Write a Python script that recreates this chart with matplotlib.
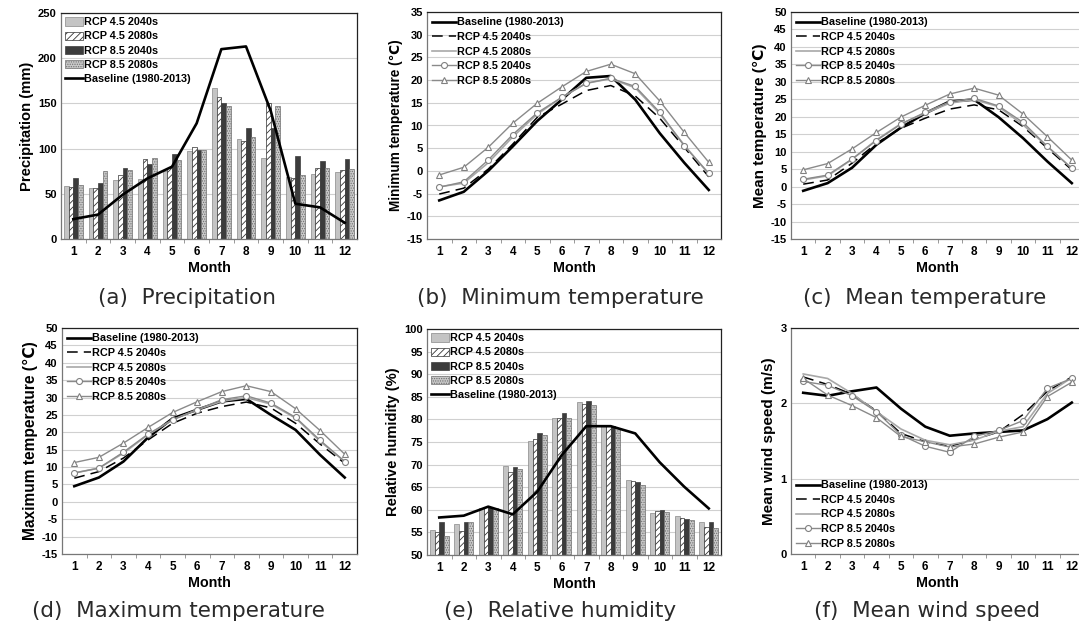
import matplotlib
matplotlib.use("Agg")
import matplotlib.pyplot as plt
import numpy as np

plt.rcParams['font.family'] = ['Liberation Sans', 'DejaVu Sans']
plt.rcParams['hatch.linewidth'] = 0.6
plt.rcParams['axes.unicode_minus'] = False

months = np.arange(1, 13)
month_labels = [str(m) for m in months]

# precipitation (mm)
prec_45_40 = [59, 56, 65, 66, 75, 97, 167, 111, 90, 69, 72, 74]
prec_45_80 = [57, 56, 71, 88, 78, 102, 157, 108, 150, 67, 78, 76]
prec_85_40 = [68, 62, 79, 83, 94, 98, 150, 123, 123, 92, 86, 89]
prec_85_80 = [60, 75, 76, 90, 87, 98, 147, 113, 147, 71, 78, 77]
prec_base = [22, 27, 49, 67, 80, 128, 210, 213, 142, 39, 35, 18]

# minimum temperature
tmin_base = [-6.5, -4.6, 0.0, 5.4, 11.0, 15.7, 20.5, 20.9, 15.7, 8.3, 1.8, -4.2]
tmin_45_40 = [-5.1, -3.8, 0.4, 5.9, 11.8, 14.7, 17.7, 18.8, 16.5, 11.6, 5.2, -1.3]
tmin_45_80 = [-3.5, -2.7, 1.8, 7.5, 12.5, 16.2, 19.3, 20.3, 18.3, 12.6, 5.7, -0.7]
tmin_85_40 = [-3.6, -2.4, 2.4, 8.0, 12.8, 16.2, 19.3, 20.4, 18.6, 12.9, 5.5, -0.5]
tmin_85_80 = [-0.9, 0.8, 5.2, 10.5, 14.9, 18.5, 21.9, 23.5, 21.4, 15.4, 8.5, 1.9]

# mean temperature
tmean_base = [-1.2, 1.0, 5.4, 12.0, 16.9, 21.0, 24.4, 24.9, 19.9, 13.9, 7.2, 1.0]
tmean_45_40 = [0.7, 1.9, 6.7, 12.4, 16.7, 19.6, 22.2, 23.4, 22.0, 17.2, 11.0, 4.8]
tmean_45_80 = [1.9, 3.1, 7.8, 13.4, 18.0, 21.0, 23.9, 24.9, 22.9, 17.7, 11.5, 5.3]
tmean_85_40 = [2.1, 3.3, 7.9, 13.2, 17.9, 21.3, 24.3, 25.3, 23.1, 18.4, 11.5, 5.2]
tmean_85_80 = [4.8, 6.6, 10.8, 15.5, 19.9, 23.3, 26.5, 28.2, 26.2, 20.8, 14.3, 7.6]

# maximum temperature
tmax_base = [4.5, 7.0, 11.6, 18.5, 24.0, 26.5, 28.9, 29.6, 25.0, 20.7, 13.5, 7.0]
tmax_45_40 = [6.8, 8.7, 12.6, 17.8, 22.6, 25.5, 27.4, 28.7, 27.0, 22.6, 16.6, 11.1]
tmax_45_80 = [8.3, 9.7, 14.0, 19.3, 23.6, 26.5, 28.9, 30.0, 28.1, 24.1, 17.4, 11.6]
tmax_85_40 = [8.3, 9.7, 14.3, 19.5, 23.6, 26.5, 29.4, 30.5, 28.4, 24.3, 17.7, 11.6]
tmax_85_80 = [11.3, 12.8, 16.9, 21.4, 25.7, 28.8, 31.7, 33.4, 31.7, 26.8, 20.5, 13.7]

# relative humidity (%)
rh_45_40 = [55.5, 56.9, 60.5, 69.6, 75.2, 80.4, 83.8, 78.5, 66.5, 59.4, 58.6, 57.4]
rh_45_80 = [55.0, 55.3, 60.6, 68.4, 75.6, 80.3, 83.3, 78.5, 66.4, 59.7, 58.1, 56.2]
rh_85_40 = [57.4, 57.4, 60.7, 69.5, 76.9, 81.4, 84.1, 78.5, 66.2, 60.0, 57.9, 57.2]
rh_85_80 = [54.2, 57.4, 60.3, 69.1, 76.5, 80.2, 83.1, 78.0, 65.4, 59.6, 57.7, 55.9]
rh_base = [58.3, 58.7, 60.7, 59.0, 64.0, 72.1, 78.5, 78.5, 76.9, 70.5, 65.1, 60.3]

# mean wind speed (m/s)
wind_base = [2.14, 2.10, 2.16, 2.21, 1.93, 1.69, 1.57, 1.60, 1.62, 1.64, 1.79, 2.01]
wind_45_40 = [2.35, 2.25, 2.12, 1.90, 1.60, 1.49, 1.43, 1.52, 1.62, 1.85, 2.16, 2.35]
wind_45_80 = [2.39, 2.33, 2.13, 1.89, 1.66, 1.51, 1.45, 1.51, 1.63, 1.69, 2.13, 2.34]
wind_85_40 = [2.29, 2.24, 2.10, 1.89, 1.58, 1.43, 1.35, 1.56, 1.64, 1.77, 2.20, 2.33]
wind_85_80 = [2.33, 2.11, 1.97, 1.81, 1.56, 1.49, 1.42, 1.46, 1.55, 1.62, 2.09, 2.28]

W, H = 1079, 631
fig = plt.figure(figsize=(W / 100, H / 100), dpi=100)


def make_ax(left, top, right, bottom):
    # pixel box -> figure fraction
    return fig.add_axes([left / W, 1 - bottom / H, (right - left) / W, (bottom - top) / H])


def style_ax(ax, ylim, yticks, ylabel, ylsize=10.3):
    ax.set_xlim(0.5, 12.5)
    ax.set_ylim(*ylim)
    ax.set_yticks(yticks)
    ax.set_xticks(months)
    ax.set_xticklabels(month_labels, fontsize=8.5, fontweight='bold')
    ax.set_xticks(np.arange(1.5, 12.5, 1), minor=True)
    ax.tick_params(axis='x', which='major', length=0, pad=5)
    ax.tick_params(axis='x', which='minor', length=3, color='#888888')
    ax.tick_params(axis='y', length=0, pad=3)
    for t in ax.get_yticklabels():
        t.set_fontsize(8)
        t.set_fontweight('bold')
    ax.yaxis.grid(True, color='#d0d0d0', lw=0.8)
    ax.set_axisbelow(True)
    for s in ax.spines.values():
        s.set_color('#222222')
        s.set_linewidth(0.9)
    ax.spines['left'].set_color('#777777')
    ax.spines['bottom'].set_color('#777777')
    ax.set_xlabel('Month', fontsize=10.3, fontweight='bold', labelpad=2)
    ax.set_ylabel(ylabel, fontsize=ylsize, fontweight='bold', labelpad=3)


def bar_panel(ax, s1, s2, s3, s4, base):
    w = 0.19
    b1 = ax.bar(months - 1.5 * w, s1, w, color='#c4c4c4', edgecolor='#888888', lw=0.5)
    b2 = ax.bar(months - 0.5 * w, s2, w, color='white', edgecolor='#333333', hatch='/////', lw=0.5)
    b3 = ax.bar(months + 0.5 * w, s3, w, color='#3c3c3c', edgecolor='#3c3c3c', lw=0.5)
    b4 = ax.bar(months + 1.5 * w, s4, w, color='#c8c8c8', edgecolor='#707070', hatch='.......', lw=0.5)
    ln, = ax.plot(months, base, color='black', lw=1.9)
    ax.legend([b1, b2, b3, b4, ln],
              ['RCP 4.5 2040s', 'RCP 4.5 2080s', 'RCP 8.5 2040s', 'RCP 8.5 2080s', 'Baseline (1980-2013)'],
              loc='upper left', frameon=False, prop={'weight': 'bold', 'size': 7.8},
              handlelength=1.6, handleheight=0.8, handletextpad=0.1, labelspacing=0.38,
              borderaxespad=0.2, borderpad=0.2)


def line_panel(ax, base, s1, s2, s3, s4, loc='upper left'):
    ax.plot(months, base, color='black', lw=1.9, label='Baseline (1980-2013)')
    ax.plot(months, s1, color='black', lw=1.1, dashes=(7, 4), label='RCP 4.5 2040s')
    ax.plot(months, s2, color='#a8a8a8', lw=1.2, label='RCP 4.5 2080s')
    ax.plot(months, s3, color='#8a8a8a', lw=1.0, marker='o', ms=4.3, mfc='white', mec='#808080',
            mew=0.8, label='RCP 8.5 2040s')
    ax.plot(months, s4, color='#8a8a8a', lw=1.0, marker='^', ms=4.3, mfc='white', mec='#808080',
            mew=0.8, label='RCP 8.5 2080s')
    ax.legend(loc=loc, frameon=False, prop={'weight': 'bold', 'size': 7.8},
              handlelength=2.2, handletextpad=0.1, labelspacing=0.42, borderaxespad=0.3, borderpad=0.2)


# (a) precipitation
ax = make_ax(61, 13, 357, 239)
bar_panel(ax, prec_45_40, prec_45_80, prec_85_40, prec_85_80, prec_base)
style_ax(ax, (0, 250), np.arange(0, 251, 50), 'Precipitation (mm)', 10.6)

# (b) minimum temperature
ax = make_ax(427, 12, 721, 239)
line_panel(ax, tmin_base, tmin_45_40, tmin_45_80, tmin_85_40, tmin_85_80)
style_ax(ax, (-15, 35), np.arange(-15, 36, 5), 'Minimum temperature (℃)', 9.8)

# (c) mean temperature
ax = make_ax(791, 12, 1084, 239)
line_panel(ax, tmean_base, tmean_45_40, tmean_45_80, tmean_85_40, tmean_85_80)
style_ax(ax, (-15, 50), np.arange(-15, 51, 5), 'Mean temperature (℃)', 11)

# (d) maximum temperature
ax = make_ax(62, 328, 357, 554)
line_panel(ax, tmax_base, tmax_45_40, tmax_45_80, tmax_85_40, tmax_85_80)
style_ax(ax, (-15, 50), np.arange(-15, 51, 5), 'Maximum temperature (℃)', 11.2)

# (e) relative humidity
ax = make_ax(427, 329, 721, 555)
bar_panel(ax, rh_45_40, rh_45_80, rh_85_40, rh_85_80, rh_base)
style_ax(ax, (50, 100), np.arange(50, 101, 5), 'Relative humidity (%)', 10.6)

# (f) mean wind speed
ax = make_ax(791, 328, 1084, 554)
line_panel(ax, wind_base, wind_45_40, wind_45_80, wind_85_40, wind_85_80, loc='lower left')
style_ax(ax, (0, 3), np.arange(0, 4, 1), 'Mean wind speed (m/s)', 11)

captions = ['(a)  Precipitation', '(b)  Minimum temperature', '(c)  Mean temperature',
            '(d)  Maximum temperature', '(e)  Relative humidity', '(f)  Mean wind speed']
cap_x = [187, 560, 925, 178, 560, 927]
cap_y = [298, 298, 298, 611, 611, 611]
for c, x, y in zip(captions, cap_x, cap_y):
    fig.text(x / W, 1 - y / H, c, ha='center', va='center', fontsize=15.5,
             family=['DejaVu Sans'], color='#2a2a2a')

fig.savefig('out.png', dpi=100)
